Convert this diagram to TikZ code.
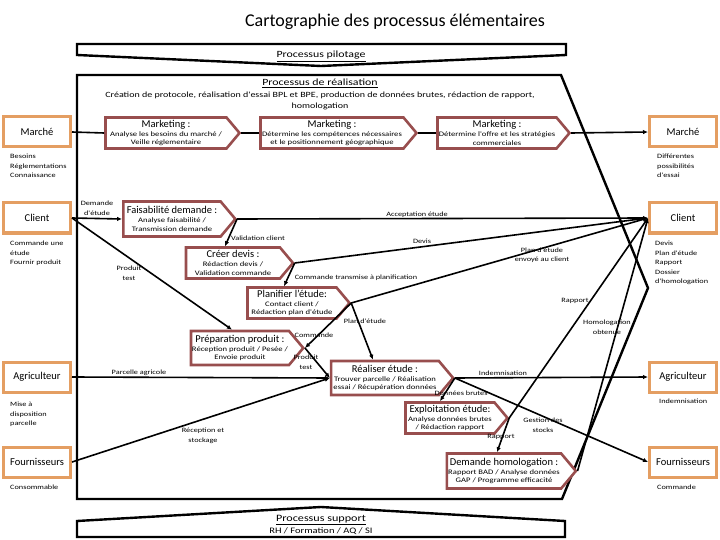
\documentclass[tikz,border=0pt]{standalone}
\usepackage{fontspec}
\setmainfont{Carlito}
\newfontfamily\widefont{Carlito}[FakeStretch=1.25]
\usetikzlibrary{arrows.meta, shapes.symbols, calc}
\definecolor{ProcRed}{RGB}{152,78,78}
\definecolor{ExtOrange}{RGB}{228,158,98}
\newcommand{\proctitle}[1]{{\normalfont\fontsize{10.5}{12}\selectfont #1}}

\begin{document}
\begin{tikzpicture}[
  x=1pt, y=-1pt,
  every node/.style={font=\widefont\fontsize{6.6}{9.5}\selectfont, inner sep=0pt},
  proc/.style={signal, signal to=east, signal pointer angle=100,
               draw=ProcRed, line width=2.6pt, fill=white, align=center,
               font=\widefont\fontsize{6.9}{8.8}\selectfont, inner sep=1pt},
  ext/.style={draw=ExtOrange, line width=3pt, fill=white,
              minimum width=67, minimum height=30,
              font=\normalfont\fontsize{10.5}{12}\selectfont},
  lbl/.style={align=center},
  side/.style={align=left, anchor=north west},
  head/.style={anchor=base},
  frame/.style={line width=2.4pt, line join=miter},
  link/.style={line width=1.6pt},
  arr/.style={-{Latex[length=5pt, width=4.5pt]}, line width=1.6pt}
]
  \useasboundingbox (0,0) rectangle (720,540);

  \node (title) at (395,22) {\normalfont\fontsize{18}{22}\selectfont Cartographie des processus élémentaires};

  % processus pilotage / realisation / support
  \draw[frame] (77,44) -- (566,44) -- (566,55) -- (321,66) -- (77,55) -- cycle;
  \node[head] (pilot) at (321,58) {\fontsize{9.5}{11}\selectfont\underline{Processus pilotage}};

  \draw[frame] (77,75) -- (561,75) -- (648,288) -- (562,499) -- (77,499) -- cycle;
  \node[head] (realis)  at (320,85.5) {\fontsize{9.5}{11}\selectfont\underline{Processus de réalisation}};
  \node[head] (realis2) at (320,98)   {\fontsize{8}{10}\selectfont Création de protocole, réalisation d'essai BPL et BPE, production de données brutes, rédaction de rapport,};
  \node[head] (realis3) at (320,109)  {\fontsize{8}{10}\selectfont homologation};

  \draw[frame] (77,521) -- (321,507) -- (565,521) -- (565,537) -- (77,537) -- cycle;
  \node[head] (support)  at (321,521.5) {\fontsize{9.7}{11}\selectfont\underline{Processus support}};
  \node[head] (support2) at (321,533.5) {\fontsize{8.4}{10}\selectfont RH / Formation / AQ / SI};

  % acteurs externes
  \node[ext] (mleft)  at (37,132) {Marché};
  \node[ext] (cleft)  at (37,218) {Client};
  \node[ext] (aleft)  at (37,377) {Agriculteur};
  \node[ext] (fleft)  at (37,462) {Fournisseurs};
  \node[ext] (mright) at (683,132) {Marché};
  \node[ext] (cright) at (683,218) {Client};
  \node[ext] (aright) at (683,377) {Agriculteur};
  \node[ext] (fright) at (683,462) {Fournisseurs};

  \node[side] (inM)  at (10,154) {Besoins\\Réglementations\\Connaissance};
  \node[side] (inC)  at (10,241) {Commande une\\étude\\Fournir produit};
  \node[side] (inA)  at (10,402) {Mise à\\disposition\\parcelle};
  \node[side] (inF)  at (10,485) {Consommable};
  \node[side] (outM) at (657,154) {Différentes\\possibilités\\d'essai};
  \node[side] (outC) at (655,241) {Devis\\Plan d'étude\\Rapport\\Dossier\\d'homologation};
  \node[side] (outA) at (659,399) {Indemnisation};
  \node[side] (outF) at (657,485) {Commande};

  % processus
  \node[proc, minimum width=134, minimum height=31] (mk1) at (166,133)
    {\proctitle{Marketing :}\\Analyse les besoins du marché /\\Veille réglementaire};
  \node[proc, minimum width=156, minimum height=31] (mk2) at (332,133)
    {\proctitle{Marketing :}\\Détermine les compétences nécessaires\\et le positionnement géographique};
  \node[proc, minimum width=132, minimum height=31] (mk3) at (497,133)
    {\proctitle{Marketing :}\\Détermine l'offre et les stratégies\\commerciales};
  \node[proc, minimum width=112, minimum height=35] (fais) at (172,219)
    {\proctitle{Faisabilité demande :}\\Analyse faisabilité /\\Transmission demande};
  \node[proc, minimum width=107, minimum height=31] (devis) at (233,263)
    {\proctitle{Créer devis :}\\Rédaction devis /\\Validation commande};
  \node[proc, minimum width=102, minimum height=31] (plan) at (292,303)
    {\proctitle{Planifier l'étude:}\\Contact client /\\Rédaction plan d'étude};
  \node[proc, minimum width=111, minimum height=34] (prep) at (240,348)
    {\proctitle{Préparation produit :}\\Réception produit / Pesée /\\Envoie produit};
  \node[proc, minimum width=122, minimum height=34] (real) at (385,378)
    {\proctitle{Réaliser étude :}\\Trouver parcelle / Réalisation\\essai / Récupération données};
  \node[proc, minimum width=102, minimum height=31] (expl) at (450,418)
    {\proctitle{Exploitation étude:}\\Analyse données brutes\\/ Rédaction rapport};
  \node[proc, minimum width=129, minimum height=35] (homol) at (504,471)
    {\proctitle{Demande homologation :}\\Rapport BAD / Analyse données\\GAP / Programme efficacité};

  % flux
  \draw[link] (mleft.east) -- (mk1.west);
  \draw[link] (mk1.east) -- (mk2.west);
  \draw[link] (mk2.east) -- (mk3.west);
  \draw[arr] (mk3.east) -- (mright.west);

  \draw[arr] (cleft.east) -- (fais.west);
  \draw[arr] (cleft.east) -- ($(prep.north)+(-8,0)$);
  \draw[arr] (fais.east) -- (cright.west);
  \draw[arr] (fais.east) -- ($(devis.north)+(-8,0)$);
  \draw[arr] (devis.east) -- (cright.west);
  \draw[arr] (devis.east) -- ($(plan.north)+(-8,0)$);
  \draw[arr] (plan.east) -- (cright.west);
  \draw[arr] (plan.east) -- (prep.east);
  \draw[arr] (plan.east) -- ($(real.north)+(-12,0)$);
  \draw[arr] (prep.east) -- (real.west);
  \draw[arr] (aleft.east) -- (real.west);
  \draw[arr] (fleft.east) -- (real.west);
  \draw[arr] (real.east) -- (aright.west);
  \draw[arr] (real.east) -- ($(expl.north)+(-10,0)$);
  \draw[arr] (real.east) -- (fright.west);
  \draw[arr] (expl.east) -- (cright.west);
  \draw[arr] (expl.east) -- ($(homol.north)+(-7,0)$);
  \draw[arr] (homol.east) -- (cright.west);

  % libelles des flux
  \node[lbl] (lDemande)  at (97,208)  {Demande\\d'étude};
  \node[lbl] (lProd1)    at (129,273) {Produit\\test};
  \node[lbl] (lAccept)   at (417,215) {Acceptation étude};
  \node[lbl] (lValid)    at (258,238) {Validation client};
  \node[lbl] (lDevis)    at (422,241) {Devis};
  \node[lbl] (lTransm)   at (356,278) {Commande transmise à planification};
  \node[lbl] (lEnvoi)    at (542,255) {Plan d'étude\\envoyé au client};
  \node[lbl] (lPlan)     at (365,321) {Plan d'étude};
  \node[lbl] (lCmd)      at (314,335) {Commande};
  \node[lbl] (lProd2)    at (306,362) {Produit\\test};
  \node[lbl] (lParcelle) at (139,373) {Parcelle agricole};
  \node[lbl] (lRecep)    at (203,436) {Réception et\\stockage};
  \node[lbl] (lIndem)    at (503,373) {Indemnisation};
  \node[lbl] (lBrutes)   at (461,393) {Données brutes};
  \node[lbl] (lStocks)   at (543,425) {Gestion des\\stocks};
  \node[lbl] (lRap1)     at (575,301) {Rapport};
  \node[lbl] (lRap2)     at (501,437) {Rapport};
  \node[lbl] (lHomol)    at (607,327) {Homologation\\obtenue};
\end{tikzpicture}
\end{document}
